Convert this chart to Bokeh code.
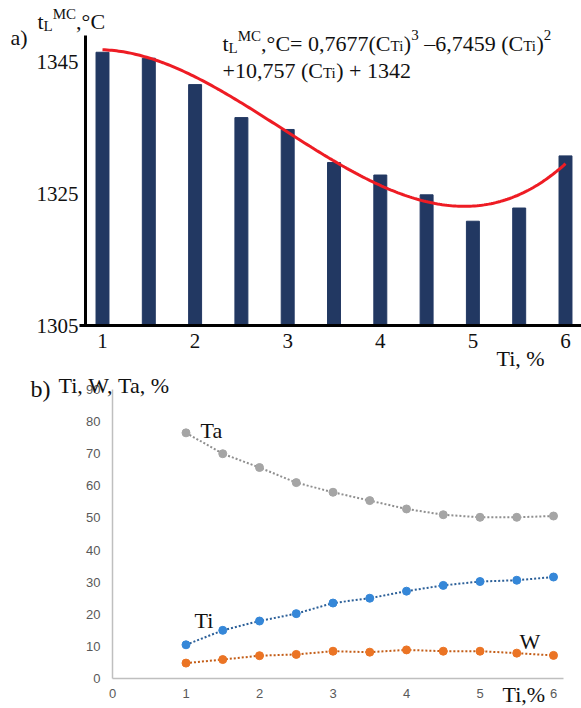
import numpy as np
from bokeh.plotting import figure
from bokeh.models import Label, FixedTicker, Range1d
from bokeh.embed import file_html
from bokeh.resources import INLINE

# ---- data -----------------------------------------------------------------
ti_content = [1.0, 1.5, 2.0, 2.5, 3.0, 3.5, 4.0, 4.5, 5.0, 5.5, 6.0]
liquidus_t = [1346.4, 1345.5, 1341.5, 1336.5, 1334.7, 1329.7,
              1327.8, 1324.8, 1320.8, 1322.8, 1330.7]
trend_coeffs = [0.7677, -6.7459, 10.757, 1342.0]   # cubic fit, highest power first

ta_pct = [76.5, 70.0, 65.7, 61.0, 58.0, 55.4, 52.8, 51.0, 50.2, 50.2, 50.6]
ti_pct = [10.5, 15.0, 17.9, 20.2, 23.5, 25.0, 27.2, 29.0, 30.2, 30.6, 31.6]
w_pct = [4.8, 5.9, 7.1, 7.5, 8.5, 8.2, 8.9, 8.5, 8.5, 7.9, 7.2]

top_y_ticks = [1305, 1325, 1345]
top_x_ticks = [1, 2, 3, 4, 5, 6]
bot_y_ticks = [0, 10, 20, 30, 40, 50, 60, 70, 80, 90]
bot_x_ticks = [0, 1, 2, 3, 4, 5, 6]

SERIF = "Liberation Serif"
SANS = "Liberation Sans"
W_PAGE = 581
H_PAGE = 708
NBSP = "\u00a0"
BASELINE_SHIFT = 7   # renderer draws "alphabetic" labels this much lower

# Times-compatible advance widths (1/1000 em) for laying out rich text runs
ADV = {" ": 250, NBSP: 250, "(": 333, ")": 333, "+": 564, ",": 250, ".": 250,
       "=": 564, "%": 833, "°": 400, "–": 500, "C": 667, "L": 611, "M": 889,
       "T": 611, "W": 944, "a": 444, "b": 500, "i": 278, "t": 278}
for d in "0123456789":
    ADV[d] = 500


def text_width(s, size):
    return sum(ADV.get(ch, 500) for ch in s) * size / 1000.0


def put_runs(fig, fig_h, x0, baseline, runs, color="#111111"):
    """Place a sequence of (text, size, raise) runs left to right, in canvas pixels."""
    x = x0
    for txt, size, dy in runs:
        txt = txt.replace(" ", NBSP)
        fig.add_layout(Label(x=x, y=fig_h - (baseline - dy - BASELINE_SHIFT), text=txt,
                             x_units="screen", y_units="screen",
                             text_font=SERIF, text_font_size=f"{size}px",
                             text_color=color, text_baseline="alphabetic",
                             text_align="left"))
        x += text_width(txt, size)


def put_text(fig, fig_h, px, baseline, txt, size, color="#111111"):
    put_runs(fig, fig_h, px, baseline, [(txt, size, 0)], color)


def style_axis(ax, color, width, font, size, label_color, standoff):
    ax.axis_line_color = color
    ax.axis_line_width = width
    ax.major_tick_out = 0
    ax.major_tick_in = 0
    ax.minor_tick_out = 0
    ax.minor_tick_in = 0
    ax.major_label_text_font = font
    ax.major_label_text_font_size = size
    ax.major_label_text_color = label_color
    ax.major_label_standoff = standoff


# ---- a) liquidus temperature vs Ti ------------------------------------------
TOP_H = 371
t_left, t_top, t_bottom = 85, 35, 325      # axis corner / top, in canvas pixels
x1_px, px_per_x = 102, 92.6                 # canvas x of Ti = 1, pixels per 1 %
px_per_deg = 6.6
top_xr = (1 - x1_px / px_per_x, 1 + (W_PAGE - x1_px) / px_per_x)
top_yr = (1305 - (TOP_H - t_bottom) / px_per_deg, 1305 + t_bottom / px_per_deg)
y_axis_x = 1 - (x1_px - t_left) / px_per_x
x_axis_start = 1 - (x1_px - 79) / px_per_x   # base line runs a little past the y axis
y_axis_top = 1305 + (t_bottom - t_top) / px_per_deg

p1 = figure(width=W_PAGE, height=TOP_H, output_backend="svg", toolbar_location=None,
            x_range=Range1d(*top_xr), y_range=Range1d(*top_yr),
            min_border=0)
p1.outline_line_color = None
p1.grid.visible = False

p1.vbar(x=ti_content, top=liquidus_t, bottom=1305, width=0.14,
        fill_color="#223862", line_color="#223862")

xs = np.linspace(ti_content[0], ti_content[-1], 200)
p1.line(xs, np.polyval(trend_coeffs, xs), line_color="#ee1c24", line_width=3)

p1.xaxis.ticker = FixedTicker(ticks=top_x_ticks)
p1.yaxis.ticker = FixedTicker(ticks=top_y_ticks)
p1.xaxis.fixed_location = 1305
p1.yaxis.fixed_location = y_axis_x
p1.xaxis.bounds = (x_axis_start, top_xr[1])
p1.yaxis.bounds = (1305, y_axis_top)
style_axis(p1.xaxis[0], "black", 3, SERIF, "21px", "#111111", 8)
style_axis(p1.yaxis[0], "black", 3, SERIF, "21px", "#111111", 7)

put_text(p1, TOP_H, 10, 44, "a)", 22)
put_runs(p1, TOP_H, 37, 28, [("t", 22, 0), ("L", 15, -4), ("MC", 15, 8), (",°C", 22, 0)])
put_runs(p1, TOP_H, 222, 50, [
    ("t", 22, 0), ("L", 15, -4), ("MC", 15, 8), (",°C= 0,7677(C", 22, 0),
    ("Ti", 15, -2), (")", 22, 0), ("3", 15, 9), (" –6,7459 (C", 22, 0),
    ("Ti", 15, -2), (")", 22, 0), ("2", 15, 9)])
put_runs(p1, TOP_H, 222, 77, [("+10,757 (C", 22, 0), ("Ti", 15, -2), (") + 1342", 22, 0)])
put_text(p1, TOP_H, 496, 365, "Ti, %", 22)

# ---- b) Ti, W, Ta content --------------------------------------------------
BOT_H = H_PAGE - TOP_H
OFF = TOP_H
b_left, b_right, b_bottom = 112, 563, 678 - OFF
px_per_xb = 73.5
px_per_pct = 289 / 90
bot_xr = (-b_left / px_per_xb, (W_PAGE - b_left) / px_per_xb)
bot_yr = (-(BOT_H - b_bottom) / px_per_pct, b_bottom / px_per_pct)
x_axis_end = (b_right - b_left) / px_per_xb

p2 = figure(width=W_PAGE, height=BOT_H, output_backend="svg", toolbar_location=None,
            x_range=Range1d(*bot_xr), y_range=Range1d(*bot_yr),
            min_border=0)
p2.outline_line_color = None
p2.grid.visible = False

series = [(ta_pct, "#a5a5a5", "#8f8f8f"),
          (ti_pct, "#3587d8", "#2b5f98"),
          (w_pct, "#eb7424", "#c35d17")]
for vals, col, line_col in series:
    p2.line(ti_content, vals, line_color=line_col, line_width=2, line_dash="2 2")
    p2.scatter(ti_content, vals, size=8, fill_color=col, line_color=col)

p2.xaxis.ticker = FixedTicker(ticks=bot_x_ticks)
p2.yaxis.ticker = FixedTicker(ticks=bot_y_ticks)
p2.xaxis.fixed_location = 0
p2.yaxis.fixed_location = 0
p2.xaxis.bounds = (0, x_axis_end)
p2.yaxis.bounds = (0, 90)
style_axis(p2.xaxis[0], "#bfbfbf", 1.5, SANS, "13px", "#595959", 10)
style_axis(p2.yaxis[0], "#bfbfbf", 1.5, SANS, "13px", "#595959", 12)

put_text(p2, BOT_H, 30, 395 - OFF, "b)", 24)
put_text(p2, BOT_H, 58, 392 - OFF, "Ti, W, Ta, %", 22)
put_text(p2, BOT_H, 200, 437 - OFF, "Ta", 22)
put_text(p2, BOT_H, 194, 627 - OFF, "Ti", 22)
put_text(p2, BOT_H, 519, 648 - OFF, "W", 22)
put_text(p2, BOT_H, 502, 701 - OFF, "Ti,%", 22)

# two independent roots, stacked, so each frame keeps its own geometry
open("out.html", "w").write(file_html([p1, p2], INLINE))
